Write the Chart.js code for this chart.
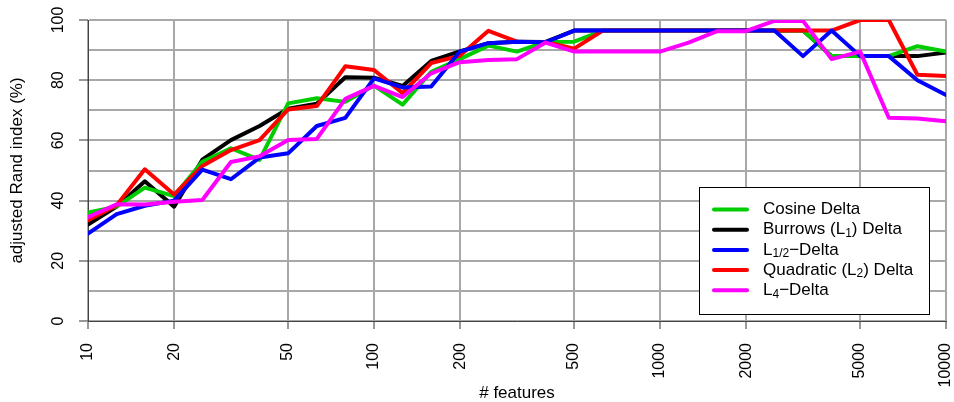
<!DOCTYPE html>
<html><head><meta charset="utf-8">
<script src="https://cdn.jsdelivr.net/npm/chart.js@4.4.0/dist/chart.umd.min.js"></script>
<style>html,body{margin:0;padding:0;background:#fff;}#wrap{width:954px;height:402px;}</style>
</head><body><div id="wrap"><canvas id="c" width="954" height="402"></canvas></div>
<script>
// number of features (x values, log-spaced)
const features = [10, 12.6, 15.8, 20, 25.1, 31.6, 39.8, 50.1, 63.1, 79.4, 100, 125.9, 158.5, 199.5, 251.2, 316.2, 398.1, 501.2, 631, 794.3, 1000, 1258.9, 1584.9, 1995.3, 2511.9, 3162.3, 3981.1, 5011.9, 6309.6, 7943.3, 10000];
// adjusted Rand index (%) per measure
const cosine    = [36, 38, 44.3, 41.5, 52.9, 57.4, 53.5, 72.3, 74, 72.8, 78.2, 71.9, 82.8, 87, 91.5, 89.5, 92.7, 92.8, 96.5, 96.5, 96.5, 96.5, 96.5, 96.5, 96.5, 96.5, 88, 88, 88, 91.3, 89.5];
const burrows   = [32, 38, 46.4, 38, 53.6, 60.1, 64.8, 70.5, 72.2, 81, 80.8, 78.1, 86.4, 89.6, 92.3, 92.8, 92.7, 96.5, 96.5, 96.5, 96.5, 96.5, 96.5, 96.5, 96.5, 96.5, 88, 88, 88, 88, 89.2];
const lhalf     = [29, 35.5, 38.3, 40, 50.3, 47.1, 54.3, 55.7, 64.8, 67.5, 80.6, 77.6, 77.9, 89.5, 92.3, 92.8, 92.6, 96.5, 96.5, 96.5, 96.5, 96.5, 96.5, 96.5, 96.5, 88, 96.5, 88, 88, 80, 75.1];
const quadratic = [33.5, 38.5, 50.4, 42, 51.5, 56.8, 60.1, 70.3, 71.4, 84.6, 83.4, 75.7, 85.7, 88.1, 96.4, 92.8, 92.7, 90.5, 96.5, 96.5, 96.5, 96.5, 96.5, 96.5, 96.5, 96.5, 96.5, 100, 100, 81.8, 81.4];
const l4        = [34.5, 38.8, 38.7, 39.6, 40.2, 52.8, 54.7, 60.1, 60.5, 73.8, 78.1, 74.4, 82.3, 86, 86.7, 87, 92.5, 89.5, 89.5, 89.5, 89.5, 92.5, 96.3, 96.3, 99.7, 99.7, 87, 89.5, 67.5, 67.3, 66.4];

const xTicks = [10, 20, 50, 100, 200, 500, 1000, 2000, 5000, 10000];
const xTickLabels = ['10', '20', '50', '100', '200', '500', '1000', '2000', '5000', '10000'];
const yTicks = [0, 20, 40, 60, 80, 100];
const yTickLabels = ['0', '20', '40', '60', '80', '100'];

// legend labels as [text, isSubscript] segments
const legendLabels = [
  [['Cosine Delta', false]],
  [['Burrows (L', false], ['1', true], [') Delta', false]],
  [['L', false], ['1/2', true], ['\u2212Delta', false]],
  [['Quadratic (L', false], ['2', true], [') Delta', false]],
  [['L', false], ['4', true], ['\u2212Delta', false]]
];
const seriesNames = ['Cosine Delta', 'Burrows (L1) Delta', 'L1/2-Delta', 'Quadratic (L2) Delta', 'L4-Delta'];
const seriesColors = ['#00CD00', '#000000', '#0000FF', '#FF0000', '#FF00FF'];
const seriesData = [cosine, burrows, lhalf, quadratic, l4];
const drawOrder = [3, 4, 1, 2, 0];

const FONT = '"Liberation Sans", Arial, Helvetica, sans-serif';

const datasets = seriesData.map((arr, i) => ({
  label: seriesNames[i],
  data: features.map((f, j) => ({x: f, y: arr[j]})),
  borderColor: seriesColors[i],
  backgroundColor: seriesColors[i],
  borderWidth: 4,
  pointRadius: 0,
  tension: 0,
  fill: false,
  borderCapStyle: 'round',
  borderJoinStyle: 'round',
  clip: 0,
  order: drawOrder[i]
}));

const overlay = {
  id: 'overlay',
  afterDatasetsDraw(chart) {
    const ctx = chart.ctx;
    const ys = chart.scales.y, area = chart.chartArea;
    ctx.save();
    ctx.fillStyle = '#000';
    // y tick labels (rotated, parallel to the axis)
    ctx.font = '16px ' + FONT;
    ctx.textAlign = 'center';
    ctx.textBaseline = 'alphabetic';
    yTicks.forEach((v, i) => {
      const py = ys.getPixelForValue(v);
      ctx.save();
      ctx.translate(63, py);
      ctx.rotate(-Math.PI / 2);
      ctx.fillText(yTickLabels[i], 0, 0);
      ctx.restore();
    });
    // axis titles
    ctx.font = '17px ' + FONT;
    ctx.save();
    ctx.translate(22, (area.top + area.bottom) / 2);
    ctx.rotate(-Math.PI / 2);
    ctx.fillText('adjusted Rand index (%)', 0, 0);
    ctx.restore();
    ctx.fillText('# features', (area.left + area.right) / 2, 398);

    // legend
    const bx = 699, by = 187, bw = 230, bh = 127;
    ctx.fillStyle = '#fff';
    ctx.fillRect(bx, by, bw, bh);
    ctx.strokeStyle = '#000';
    ctx.lineWidth = 1;
    ctx.strokeRect(bx + 0.5, by + 0.5, bw, bh);
    ctx.textAlign = 'left';
    ctx.textBaseline = 'middle';
    legendLabels.forEach((segs, i) => {
      const ly = 209.5 + i * 20.2;
      ctx.strokeStyle = seriesColors[i];
      ctx.lineWidth = 4;
      ctx.lineCap = 'round';
      ctx.beginPath();
      ctx.moveTo(714, ly);
      ctx.lineTo(747, ly);
      ctx.stroke();
      ctx.fillStyle = '#000';
      let tx = 763;
      segs.forEach(([t, sub]) => {
        ctx.font = (sub ? '12px ' : '17px ') + FONT;
        ctx.fillText(t, tx, ly + (sub ? 4 : 0));
        tx += ctx.measureText(t).width;
      });
    });
    ctx.restore();
  }
};

new Chart(document.getElementById('c'), {
  type: 'line',
  data: { datasets },
  options: {
    responsive: false,
    animation: false,
    devicePixelRatio: 1,
    layout: { padding: { top: 20, right: 8, left: 0, bottom: 0 } },
    plugins: { legend: { display: false }, tooltip: { enabled: false } },
    scales: {
      x: {
        type: 'logarithmic',
        min: 10, max: 10000,
        afterBuildTicks: (s) => { s.ticks = xTicks.map(v => ({ value: v })); },
        afterFit: (s) => { s.height = 81; s.paddingLeft = 0; s.paddingRight = 0; },
        ticks: {
          autoSkip: false, minRotation: 90, maxRotation: 90, padding: 14,
          color: '#000', font: { family: FONT, size: 16, lineHeight: 1 },
          callback: (v, i) => xTickLabels[i]
        },
        grid: { color: '#a8a8a8', lineWidth: 2, tickColor: '#333', tickLength: 8, tickWidth: 1 },
        border: { display: true, color: '#444', width: 1 }
      },
      y: {
        type: 'linear',
        min: 0, max: 100,
        afterFit: (s) => { s.width = 88; s.paddingTop = 0; s.paddingBottom = 0; },
        ticks: { stepSize: 10, display: false },
        grid: {
          color: '#a8a8a8', lineWidth: 2, tickLength: 9, tickWidth: 1,
          tickColor: (c) => (c.tick && c.tick.value % 20 === 0) ? '#333' : 'rgba(0,0,0,0)'
        },
        border: { display: true, color: '#444', width: 1 }
      }
    }
  },
  plugins: [overlay]
});
</script>
</body></html>
